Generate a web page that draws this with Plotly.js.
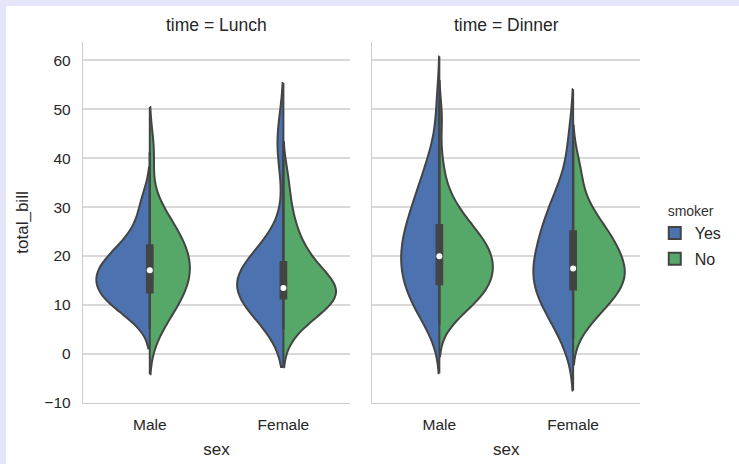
<!DOCTYPE html>
<html>
<head>
<meta charset="utf-8">
<script src="https://cdn.plot.ly/plotly-3.0.1.min.js"></script>
<style>
  html, body { margin: 0; padding: 0; background: #e6e6fa; }
  #chart { position: absolute; left: 6px; top: 6px; width: 733px; height: 458px; background: #ffffff; }
</style>
</head>
<body>
<div id="chart"></div>
<script>
// ---- data (total_bill) ----
const sexCategories = ['Male', 'Female'];
const timePanels = ['Lunch', 'Dinner'];
const smokerLevels = ['Yes', 'No'];

const lunchMaleYes = [8.2, 9.5, 10.8, 11.9, 12.9, 13.8, 14.7, 15.7, 16.6, 17.6, 18.6, 19.7, 20.9, 22.7, 26.0, 31.0];
const lunchMaleNo = [5.1, 8.0, 9.6, 11.2, 12.3, 13.4, 14.4, 15.5, 16.6, 17.6, 18.6, 19.5, 20.5, 21.6, 22.8, 24.0, 25.3, 27.4, 29.6, 41.2];
const lunchFemaleYes = [9.6, 10.1, 12.2, 13.0, 13.4, 15.6, 16.3, 18.3, 19.8, 43.1];
const lunchFemaleNo = [5.0, 6.8, 8.1, 9.3, 10.1, 10.7, 11.3, 11.7, 12.1, 12.5, 12.8, 13.1, 13.5, 14.1, 15.0, 15.9, 16.8, 17.8, 18.9, 20.3, 21.8, 23.8, 26.4, 30.0, 35.6];

const dinnerMaleYes = [6.0, 7.1, 8.2, 9.3, 10.4, 11.4, 12.2, 12.9, 13.7, 14.4, 15.2, 15.9, 16.5, 17.2, 17.9, 18.6, 19.3, 19.9, 20.6, 21.3, 21.9, 22.6, 23.3, 24.1, 24.8, 25.6, 26.3, 27.2, 28.1, 29.0, 29.8, 30.9, 32.0, 33.2, 34.5, 36.0, 37.5, 39.6, 42.2, 50.8];
const dinnerMaleNo = [7.0, 8.2, 8.9, 9.6, 10.2, 10.9, 11.5, 12.0, 12.3, 12.8, 13.1, 13.5, 13.9, 14.3, 14.7, 15.1, 15.5, 15.9, 16.3, 16.7, 17.1, 17.6, 18.0, 18.3, 18.7, 19.1, 19.5, 20.0, 20.2, 20.6, 21.0, 21.4, 21.9, 22.2, 22.6, 23.1, 23.7, 24.1, 24.6, 25.2, 25.7, 26.5, 27.3, 28.1, 28.9, 30.3, 31.8, 34.1, 38.9, 48.3];
const dinnerFemaleYes = [3.1, 6.5, 8.0, 9.8, 11.4, 12.4, 13.6, 14.8, 15.9, 16.9, 17.0, 17.6, 20.3, 21.4, 22.7, 24.0, 25.3, 26.7, 28.3, 30.3, 32.3, 34.9, 43.5];
const dinnerFemaleNo = [5.9, 7.8, 9.1, 10.4, 11.4, 12.1, 12.8, 13.6, 14.3, 15.0, 15.7, 16.4, 17.1, 17.0, 17.3, 19.1, 19.8, 20.5, 21.1, 22.0, 22.8, 23.8, 24.7, 25.6, 27.0, 28.4, 30.2, 34.7, 38.6];

const yTicks = [-10, 0, 10, 20, 30, 40, 50, 60];

const groups = {
  Lunch:  { Male: { Yes: lunchMaleYes,  No: lunchMaleNo },  Female: { Yes: lunchFemaleYes,  No: lunchFemaleNo } },
  Dinner: { Male: { Yes: dinnerMaleYes, No: dinnerMaleNo }, Female: { Yes: dinnerFemaleYes, No: dinnerFemaleNo } }
};

// ---- styling ----
const colors = { Yes: '#4c72b0', No: '#55a868' };
const sides = { Yes: 'negative', No: 'positive' };
const edge = '#444444';
const textColor = '#262626';
const font = 'Liberation Sans, Arial, Helvetica, sans-serif';
const fullViolinWidth = 0.8;

// ---- helpers (Scott bandwidth, Gaussian KDE peak, quantiles) ----
function scottBandwidth(arr) {
  const n = arr.length;
  const mean = arr.reduce((a, b) => a + b, 0) / n;
  const v = arr.reduce((a, b) => a + (b - mean) * (b - mean), 0) / (n - 1);
  return Math.sqrt(v) * Math.pow(n, -0.2);
}
function kdePeak(arr, bw) {
  const lo = Math.min(...arr) - 2 * bw, hi = Math.max(...arr) + 2 * bw;
  let best = 0;
  for (let k = 0; k <= 600; k++) {
    const t = lo + (hi - lo) * k / 600;
    let s = 0;
    for (const v of arr) { const z = (t - v) / bw; s += Math.exp(-0.5 * z * z); }
    best = Math.max(best, s / (arr.length * bw * Math.sqrt(2 * Math.PI)));
  }
  return best;
}
function quantile(arr, q) {
  const s = arr.slice().sort((a, b) => a - b);
  const pos = (s.length - 1) * q;
  const lo = Math.floor(pos), hi = Math.ceil(pos);
  return s[lo] + (s[hi] - s[lo]) * (pos - lo);
}

const traces = [];
timePanels.forEach((time, ti) => {
  const xa = ti === 0 ? 'x' : 'x2';
  const ya = ti === 0 ? 'y' : 'y2';
  // area scaling inside a facet: each half's width is proportional to its density peak
  const info = {};
  let facetMax = 0;
  sexCategories.forEach(sex => smokerLevels.forEach(sm => {
    const vals = groups[time][sex][sm];
    const bw = scottBandwidth(vals);
    const pk = kdePeak(vals, bw);
    info[sex + sm] = { bw, pk, lo: Math.min(...vals) - 2 * bw, hi: Math.max(...vals) + 2 * bw };
    facetMax = Math.max(facetMax, pk);
  }));
  sexCategories.forEach(sex => {
    smokerLevels.forEach(sm => {
      const vals = groups[time][sex][sm];
      const inf = info[sex + sm];
      traces.push({
        type: 'violin',
        x: vals.map(() => sex),
        y: vals,
        xaxis: xa, yaxis: ya,
        name: sm,
        legendgroup: sm,
        showlegend: ti === 0 && sex === 'Male',
        side: sides[sm],
        bandwidth: inf.bw,
        spanmode: 'soft',
        scalemode: 'width',
        scalegroup: time + sex + sm,
        width: fullViolinWidth * inf.pk / facetMax,
        points: false,
        box: { visible: false },
        meanline: { visible: false },
        fillcolor: colors[sm],
        opacity: 1,
        line: { color: edge, width: 2 },
        hoverinfo: 'skip'
      });
    });
  });
  // inner box of the combined (both smoker levels) data
  const bx = [], by = [];
  sexCategories.forEach(sex => {
    smokerLevels.forEach(sm => {
      groups[time][sex][sm].forEach(v => { bx.push(sex); by.push(v); });
    });
  });
  traces.push({
    type: 'box', x: bx, y: by, xaxis: xa, yaxis: ya,
    boxpoints: false, width: 0.04, whiskerwidth: 0,
    fillcolor: edge, line: { color: edge, width: 2.4 },
    showlegend: false, hoverinfo: 'skip'
  });
  // centre outline where the two halves meet (full KDE support)
  const cx = [], cy = [];
  sexCategories.forEach(sex => {
    const lo = Math.min(...smokerLevels.map(sm => info[sex + sm].lo));
    const hi = Math.max(...smokerLevels.map(sm => info[sex + sm].hi));
    cx.push(sex, sex, null); cy.push(lo, hi, null);
  });
  traces.push({
    type: 'scatter', mode: 'lines', x: cx, y: cy, xaxis: xa, yaxis: ya,
    line: { color: edge, width: 2 }, connectgaps: false,
    showlegend: false, hoverinfo: 'skip'
  });
  const medians = sexCategories.map(sex => {
    const all = smokerLevels.reduce((acc, sm) => acc.concat(groups[time][sex][sm]), []);
    return quantile(all, 0.5);
  });
  traces.push({
    type: 'scatter', mode: 'markers', x: sexCategories, y: medians, xaxis: xa, yaxis: ya,
    marker: { color: '#ffffff', size: 6, line: { width: 0 } },
    showlegend: false, hoverinfo: 'skip'
  });
});

const xBase = {
  type: 'category', categoryorder: 'array', categoryarray: sexCategories,
  range: [-0.5, 1.5], showgrid: false, zeroline: false,
  showline: true, linecolor: '#cccccc', linewidth: 1.25,
  ticks: '', ticklabelstandoff: 7,
  tickfont: { family: font, size: 15.5, color: textColor },
  title: { text: 'sex', font: { family: font, size: 17, color: textColor }, standoff: 11 },
  fixedrange: true
};
const yBase = {
  range: [-10, 63.7], tickvals: yTicks, showgrid: true, gridcolor: '#d9d9d9', gridwidth: 1.3,
  zeroline: false, showline: true, linecolor: '#cccccc', linewidth: 1.25,
  ticks: '', ticklabelstandoff: 8,
  tickfont: { family: font, size: 15.5, color: textColor },
  fixedrange: true
};

const layout = {
  width: 733, height: 458,
  margin: { l: 77, r: 89, t: 36, b: 61 },
  paper_bgcolor: '#ffffff', plot_bgcolor: '#ffffff',
  font: { family: font, color: textColor },
  violinmode: 'overlay', boxmode: 'overlay',
  xaxis: Object.assign({}, xBase, { domain: [0, 0.4797], anchor: 'y' }),
  xaxis2: Object.assign({}, xBase, { domain: [0.5197, 1], anchor: 'y2' }),
  yaxis: Object.assign({}, yBase, { anchor: 'x',
    title: { text: 'total_bill', font: { family: font, size: 17, color: textColor }, standoff: 11 } }),
  yaxis2: Object.assign({}, yBase, { anchor: 'x2', matches: 'y', showticklabels: false }),
  legend: {
    x: 1.0265, xanchor: 'left', y: 0.568, yanchor: 'top',
    title: { text: 'smoker', side: 'top center', font: { family: font, size: 14, color: '#333333' } },
    font: { family: font, size: 16, color: textColor },
    traceorder: 'grouped', tracegroupgap: 2,
    bgcolor: 'rgba(0,0,0,0)'
  },
  annotations: timePanels.map((t, i) => ({
    text: 'time = ' + t, xref: i === 0 ? 'x domain' : 'x2 domain', yref: 'paper',
    x: 0.5, y: 1 + 17 / 361, xanchor: 'center', yanchor: 'middle', showarrow: false,
    font: { family: font, size: 17.5, color: textColor }
  }))
};

Plotly.newPlot('chart', traces, layout, { displayModeBar: false, staticPlot: true });
</script>
</body>
</html>
